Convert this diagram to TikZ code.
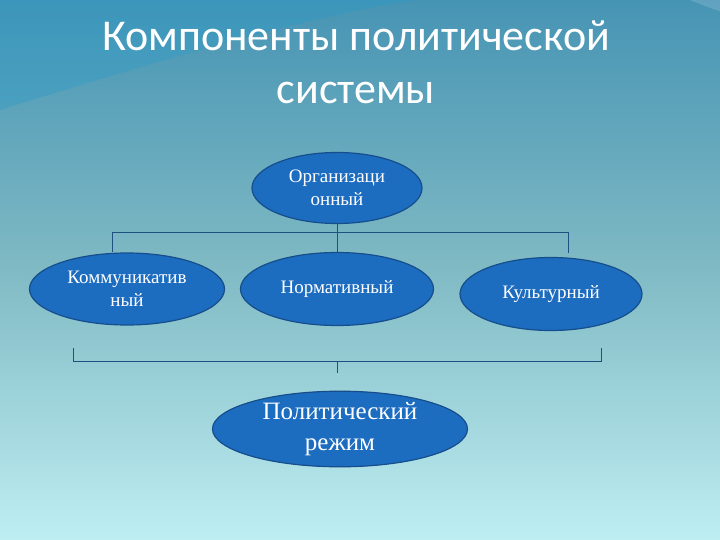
\documentclass[tikz,border=0pt]{standalone}
\usepackage{fontspec}
\setmainfont{Liberation Serif}
\newfontfamily\titlefont{Carlito}
\usetikzlibrary{shapes.geometric}
\definecolor{bgtop}{RGB}{70,148,180}
\definecolor{bgmid}{RGB}{128,186,196}
\definecolor{bgbot}{RGB}{190,238,242}
\definecolor{ovalfill}{RGB}{28,108,192}
\definecolor{ovalline}{RGB}{22,78,140}
\definecolor{linkline}{RGB}{30,80,130}
\begin{document}
\begin{tikzpicture}[x=1pt,y=-1pt,
  comp/.style={ellipse,draw=ovalline,line width=1.2pt,fill=ovalfill,text=white,
    font=\fontsize{19}{23}\selectfont,align=center,inner sep=0pt},
  link/.style={draw=linkline,line width=0.7pt}]
  \shade[top color=bgtop,bottom color=bgbot,middle color=bgmid] (0,0) rectangle (720,540);
  \useasboundingbox (0,0) rectangle (720,540);
  % волна в верхнем углу
  \fill[cyan!60!teal,opacity=0.35] (0,0) -- (0,110) .. controls (160,60) and (330,10) .. (420,0) -- cycle;
  \fill[white,opacity=0.15] (690,0) .. controls (760,30) and (900,55) .. (1000,70) -- (720,70) -- (720,0) -- cycle;
  \node[text=white,font=\titlefont\fontsize{44}{53}\selectfont,align=center,inner sep=0pt] (title) at (356,62)
    {Компоненты политической\\системы};
  \node[comp,minimum width=170,minimum height=71] (org) at (337,188) {Организаци\\онный};
  \node[comp,minimum width=195,minimum height=72] (kom) at (127,289) {Коммуникатив\\ный};
  \node[comp,minimum width=193,minimum height=73] (norm) at (337,289) {Нормативный};
  \node[comp,minimum width=182,minimum height=73] (kult) at (551,294) {Культурный};
  \node[comp,minimum width=255,minimum height=74,font=\fontsize{25}{31}\selectfont] (rezh) at (340,429)
    {Политический\\режим};
  \coordinate (tl) at (112,232); \coordinate (tr) at (568,232);
  \coordinate (bl) at (73,361); \coordinate (br) at (601,361); \coordinate (bm) at (337,361);
  \draw[link] (org.south) -- (org.south |- tl);
  \draw[link] (tl |- kom.north) -- (tl) -- (tr) -- (568,253);
  \draw[link] (org.south |- tl) -- (norm.north);
  \draw[link] (73,348) -- (bl) -- (br) -- (601,348);
  \draw[link] (bm) -- (337,373);
\end{tikzpicture}
\end{document}
